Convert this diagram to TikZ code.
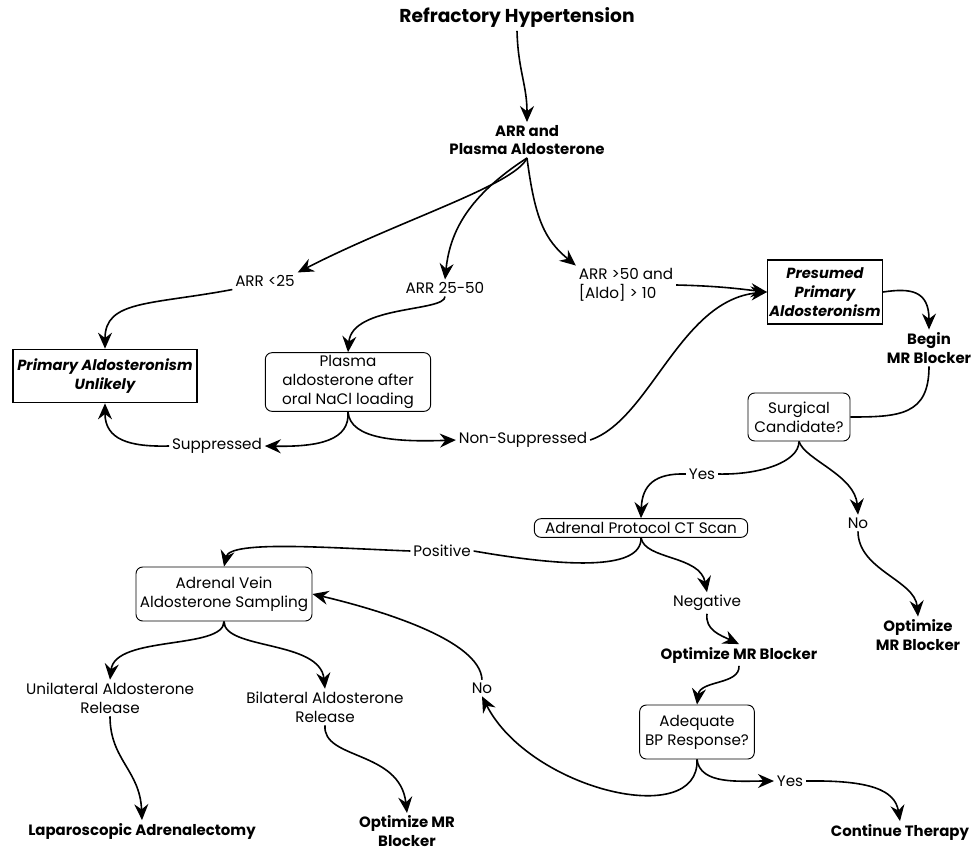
\documentclass[tikz,border=0pt]{standalone}
\usepackage{fontspec}
\setmainfont{Poppins}
\usetikzlibrary{arrows.meta}
\tikzset{
  lbl/.style={font=\fontsize{11.4}{14.2}\selectfont, align=center, inner sep=2pt},
  bld/.style={font=\fontsize{11.2}{14.2}\selectfont\bfseries, align=center, inner sep=2pt},
  rbox/.style={draw, rounded corners=5pt, line width=0.7pt, align=center, inner sep=0pt, font=\fontsize{11.4}{14.2}\selectfont},
  sbox/.style={draw, line width=1pt, align=center, inner sep=0pt, font=\fontsize{11}{14.2}\selectfont\bfseries\itshape},
  arr/.style={line width=1.2pt, -{Stealth[length=12pt,width=10.5pt,inset=4pt]}},
  ln/.style={line width=1.2pt},
}
\begin{document}
\begin{tikzpicture}[x=0.75pt,y=-0.75pt]
\useasboundingbox (0,0) rectangle (977,853);
\node[bld, font=\fontsize{14}{16}\selectfont\bfseries] (title) at (517,18) {Refractory Hypertension};
\node[bld] (arr) at (527,140) {ARR and\\Plasma Aldosterone};
\node[lbl] (lt) at (265,281) {ARR <25};
\node[lbl] (mid) at (445,288) {ARR 25-50};
\node[lbl, align=left] (gt) at (626,285) {ARR >50 and\\{[Aldo] > 10}};
\node[sbox, minimum width=138pt, minimum height=40pt] (unl) at (105,376) {Primary Aldosteronism\\Unlikely};
\node[rbox, minimum width=124pt, minimum height=44pt] (plasma) at (348,382) {Plasma\\aldosterone after\\oral NaCl loading};
\node[lbl] (supp) at (217,446) {Suppressed};
\node[lbl] (nonsupp) at (523,440) {Non-Suppressed};
\node[sbox, minimum width=86pt, minimum height=48pt] (pres) at (825,292) {Presumed\\Primary\\Aldosteronism};
\node[bld] (begin) at (929,348) {Begin\\MR Blocker};
\node[rbox, minimum width=76.5pt, minimum height=36pt] (surg) at (799,417) {Surgical\\Candidate?};
\node[lbl] (yes1) at (702,474) {Yes};
\node[lbl] (no1) at (858,523) {No};
\node[rbox, minimum width=160pt, minimum height=14pt] (ct) at (641,528) {Adrenal Protocol CT Scan};
\node[bld] (omr1) at (918,635) {Optimize\\MR Blocker};
\node[lbl] (pos) at (442,551) {Positive};
\node[rbox, minimum width=132pt, minimum height=40.5pt] (avs) at (224,594) {Adrenal Vein\\Aldosterone Sampling};
\node[lbl] (neg) at (707,603) {Negative};
\node[bld] (omr2) at (739,655) {Optimize MR Blocker};
\node[rbox, minimum width=86pt, minimum height=40.5pt] (adeq) at (697,732) {Adequate\\BP Response?};
\node[lbl] (yes2) at (790,781) {Yes};
\node[lbl] (no2) at (482,688) {No};
\node[bld] (cont) at (900,832) {Continue Therapy};
\node[lbl] (uni) at (110,698) {Unilateral Aldosterone\\Release};
\node[lbl] (bil) at (325,707) {Bilateral Aldosterone\\Release};
\node[bld] (lap) at (142,831) {Laparoscopic Adrenalectomy};
\node[bld, font=\fontsize{11.2}{13.6}\selectfont\bfseries] (omr3) at (407,831) {Optimize MR\\Blocker};

\draw[arr] (title.south) .. controls (518,70) and (527,85) .. (arr.north);
\draw[arr] (arr.south) .. controls (515,185) and (400,220) .. (lt.north east);
\draw[arr] (arr.south) .. controls (470,195) and (450,230) .. (mid.north);
\draw[arr] (arr.south) .. controls (535,220) and (545,240) .. (gt.north west);
\draw[arr] (lt.south west) .. controls (150,305) and (105,300) .. (unl.north);
\draw[arr] (mid.south) .. controls (445,312) and (352,305) .. (plasma.north);
\draw[arr] (plasma.south) .. controls (350,440) and (320,447) .. (supp.east);
\draw[arr] (plasma.south) .. controls (350,440) and (400,442) .. (nonsupp.west);
\draw[arr] (supp.west) .. controls (130,447) and (105,440) .. (unl.south);
\draw[arr] (gt.east) .. controls (720,286) and (740,289) .. (pres.west);
\draw[arr] (nonsupp.east) .. controls (650,420) and (680,300) .. (pres.west);
\draw[arr] (pres.east) .. controls (910,288) and (929,290) .. (begin.north);
\draw[ln] (begin.south) .. controls (929,415) and (900,417) .. (surg.east);
\draw[ln] (surg.south) .. controls (799,462) and (760,475) .. (yes1.east);
\draw[arr] (yes1.west) .. controls (655,473) and (642,485) .. (ct.north);
\draw[arr] (surg.south) .. controls (805,460) and (855,475) .. (no1.north);
\draw[ln] (ct.south) .. controls (642,572) and (560,566) .. (pos.east);
\draw[arr] (pos.west) .. controls (330,548) and (230,540) .. (avs.north);
\draw[arr] (ct.south) .. controls (645,560) and (700,555) .. (neg.north);
\draw[arr] (neg.south) .. controls (705,630) and (720,635) .. (omr2.north);
\draw[arr] (omr2.south) .. controls (740,685) and (700,680) .. (adeq.north);
\draw[arr] (adeq.south) .. controls (700,785) and (740,781) .. (yes2.west);
\draw[arr] (yes2.east) .. controls (870,780) and (895,790) .. (cont.north);
\draw[arr] (adeq.south) .. controls (700,830) and (530,790) .. (no2.south);
\draw[arr] (no2.north) .. controls (480,640) and (380,610) .. (avs.east);
\draw[arr] (no1.south) .. controls (858,570) and (915,580) .. (omr1.north);
\draw[arr] (avs.south) .. controls (224,650) and (115,635) .. (uni.north);
\draw[arr] (avs.south) .. controls (224,650) and (320,640) .. (bil.north);
\draw[arr] (uni.south) .. controls (110,760) and (140,770) .. (lap.north);
\draw[arr] (bil.south) .. controls (322,760) and (400,750) .. (omr3.north);
\end{tikzpicture}
\end{document}
